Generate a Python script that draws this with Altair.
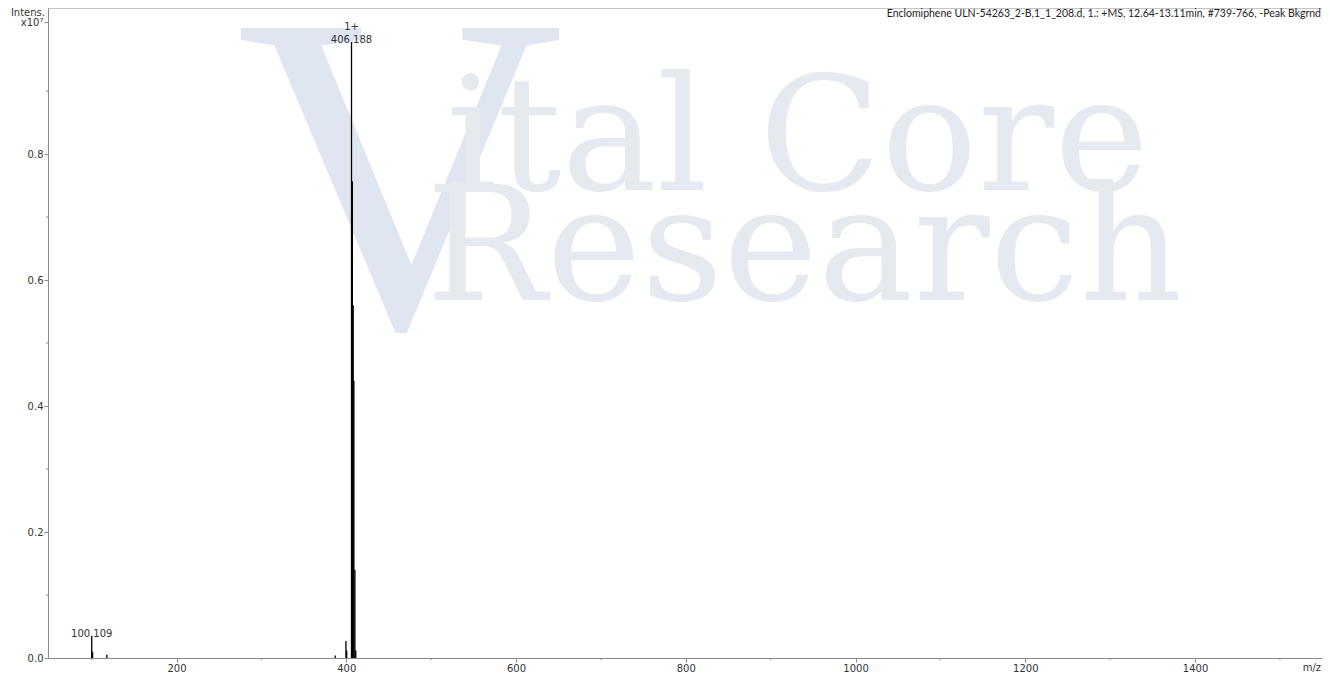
import altair as alt
import pandas as pd

# ---- data (intensity in units of 1e7) ----
peak_mz = [100.109, 101.11, 117.9, 387.0, 399.6, 400.5,
           406.188, 407.19, 408.19, 409.0, 410.19, 411.2]
peak_int = [0.035, 0.010, 0.005, 0.004, 0.027, 0.012,
            0.978, 0.757, 0.56, 0.44, 0.14, 0.012]

label_mz = [100.109, 406.188]
label_int = [0.035, 0.978]
label_text = ["100.109", "406.188"]
charge_mz = [406.188]
charge_int = [0.978]
charge_text = ["1+"]

x_ticks = [200, 400, 600, 800, 1000, 1200, 1400]
x_minor = [100, 300, 500, 700, 900, 1100, 1300, 1500]
y_ticks = [0.0, 0.2, 0.4, 0.6, 0.8]
y_unit_tick = [1.0095]
y_minor = [0.1, 0.3, 0.5, 0.7, 0.9]

info_text = ["Enclomiphene ULN-54263_2-B,1_1_208.d, 1.: +MS, 12.64-13.11min, #739-766, -Peak Bkgrnd"]
wm_v = ["V"]
wm_line1 = ["ital Core"]
wm_line2 = ["Research"]

W, H = 1274, 650
FONT = "DejaVu Sans"
AX = "#8a8a8a"

xs = alt.Scale(domain=[48.6, 1549.6], nice=False, zero=False)
ys = alt.Scale(domain=[0, 1.032], nice=False, zero=True)

xaxis = alt.Axis(values=x_ticks, format="d", title=None, grid=False,
                 labelFont=FONT, labelFontSize=10, labelColor="#333",
                 tickColor=AX, domainColor=AX, tickSize=4, labelPadding=1)
yaxis = alt.Axis(values=y_ticks + y_unit_tick, title=None, grid=False,
                 labelExpr="datum.value > 0.9 ? 'x10\u2077' : format(datum.value, '.1f')",
                 labelFont=FONT, labelFontSize=10, labelColor="#333",
                 tickColor=AX, domainColor=AX, tickSize=4, labelPadding=1)

peaks = pd.DataFrame({"mz": peak_mz, "inten": peak_int, "base": [0.0] * len(peak_mz)})
labels = pd.DataFrame({"mz": label_mz, "inten": label_int, "t": label_text})
charges = pd.DataFrame({"mz": charge_mz, "inten": charge_int, "t": charge_text})


def one(t):
    return pd.DataFrame({"t": t})


# watermark
wv = alt.Chart(one(wm_v)).mark_text(font="Liberation Serif", fontSize=455, color="#dfe6f1",
                                    align="center", baseline="alphabetic").encode(
    x=alt.value(352), y=alt.value(318), text="t:N")
w1 = alt.Chart(one(wm_line1)).mark_text(font="DejaVu Serif", fontSize=160, color="#e5e9f0",
                                        align="left", baseline="alphabetic").encode(
    x=alt.value(398), y=alt.value(182), text="t:N")
w2 = alt.Chart(one(wm_line2)).mark_text(font="DejaVu Serif", fontSize=160, color="#e5e9f0",
                                        align="left", baseline="alphabetic").encode(
    x=alt.value(378), y=alt.value(292), text="t:N")

sticks = alt.Chart(peaks).mark_rule(color="black", strokeWidth=1.3).encode(
    x=alt.X("mz:Q", scale=xs, axis=xaxis),
    y=alt.Y("inten:Q", scale=ys, axis=yaxis),
    y2="base:Q",
)

xminor = alt.Chart(pd.DataFrame({"v": x_minor})).mark_rule(color=AX).encode(
    x=alt.X("v:Q", scale=xs, axis=xaxis), y=alt.value(H), y2=alt.value(H + 2))
yminor = alt.Chart(pd.DataFrame({"v": y_minor})).mark_rule(color=AX).encode(
    y=alt.Y("v:Q", scale=ys, axis=yaxis), x=alt.value(-2), x2=alt.value(0))

topline = alt.Chart(one([""])).mark_rule(color=AX).encode(
    x=alt.value(0), x2=alt.value(W), y=alt.value(0))

lab = alt.Chart(labels).mark_text(font=FONT, fontSize=10, color="#333",
                                  align="center", baseline="alphabetic", dy=1).encode(
    x=alt.X("mz:Q", scale=xs, axis=xaxis), y=alt.Y("inten:Q", scale=ys, axis=yaxis), text="t:N")
chg = alt.Chart(charges).mark_text(font=FONT, fontSize=10, color="#333",
                                   align="center", baseline="alphabetic", dy=-12).encode(
    x=alt.X("mz:Q", scale=xs, axis=xaxis), y=alt.Y("inten:Q", scale=ys, axis=yaxis), text="t:N")

info = alt.Chart(one(info_text)).mark_text(font="Lato", fontSize=10.5, color="#222",
                                           align="right", baseline="middle").encode(
    x=alt.value(W - 1), y=alt.value(6), text="t:N")
intens = alt.Chart(one(["Intens."])).mark_text(font=FONT, fontSize=10, color="#333",
                                               align="right", baseline="middle").encode(
    x=alt.value(-3), y=alt.value(4.5), text="t:N")
mzlab = alt.Chart(one(["m/z"])).mark_text(font=FONT, fontSize=10, color="#333",
                                          align="right", baseline="middle").encode(
    x=alt.value(W - 1), y=alt.value(H + 10), text="t:N")

chart = alt.layer(wv, w1, w2, sticks, xminor, yminor, topline, lab, chg, info, intens, mzlab).properties(
    width=W, height=H,
    autosize=alt.AutoSizeParams(type="none"),
    padding={"left": 40, "top": 0, "right": 0, "bottom": 16},
    background="white",
).configure_view(stroke=None)

chart.save("out.html", embed_options={"renderer": "svg", "actions": False})
